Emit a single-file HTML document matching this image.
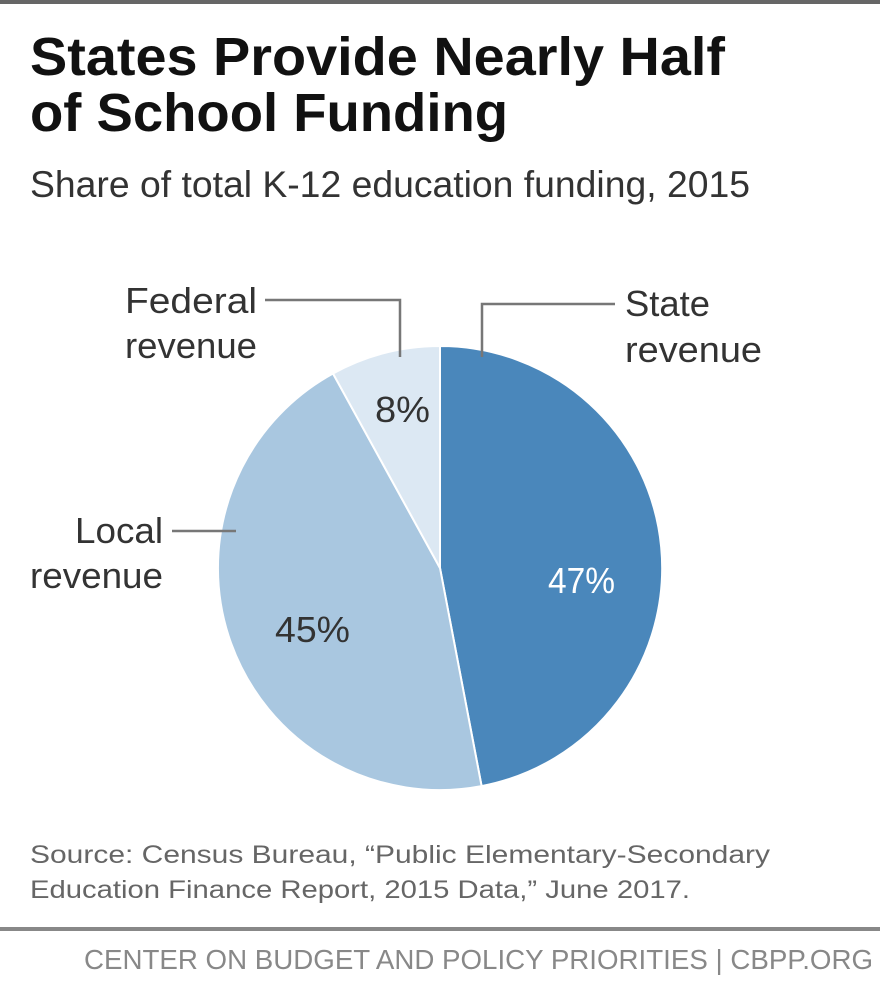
<!DOCTYPE html>
<html><head><meta charset="utf-8"><style>body{margin:0;background:#fff}svg{display:block}</style></head>
<body>
<svg width="880" height="987" viewBox="0 0 880 987" xmlns="http://www.w3.org/2000/svg" font-family="Liberation Sans, sans-serif">
<rect x="0" y="0" width="880" height="4" fill="#666"/>
<text x="30" y="75" font-size="54" font-weight="bold" fill="#111" textLength="695" lengthAdjust="spacingAndGlyphs">States Provide Nearly Half</text>
<text x="30" y="131" font-size="54" font-weight="bold" fill="#111" textLength="478" lengthAdjust="spacingAndGlyphs">of School Funding</text>
<text x="30" y="197" font-size="37" fill="#333" textLength="720" lengthAdjust="spacingAndGlyphs">Share of total K-12 education funding, 2015</text>
<g stroke="#fff" stroke-width="2">
<path d="M440,568 L440,346 A222,222 0 0 1 481.6,786.1 Z" fill="#4a87bb"/>
<path d="M440,568 L481.6,786.1 A222,222 0 0 1 333,373.5 Z" fill="#a9c7e0"/>
<path d="M440,568 L333,373.5 A222,222 0 0 1 440,346 Z" fill="#dce8f3"/>
</g>
<g stroke="#777" stroke-width="2.5" fill="none">
<polyline points="265,300 400,300 400,357"/>
<polyline points="482,357 482,304 615,304"/>
<line x1="172" y1="531" x2="236" y2="531"/>
</g>
<g font-size="36" fill="#333">
<text x="125" y="313" textLength="132" lengthAdjust="spacingAndGlyphs">Federal</text>
<text x="125" y="358" textLength="132" lengthAdjust="spacingAndGlyphs">revenue</text>
<text x="625" y="316" textLength="85" lengthAdjust="spacingAndGlyphs">State</text>
<text x="625" y="362" textLength="137" lengthAdjust="spacingAndGlyphs">revenue</text>
<text x="75" y="543" textLength="88" lengthAdjust="spacingAndGlyphs">Local</text>
<text x="30" y="588" textLength="133" lengthAdjust="spacingAndGlyphs">revenue</text>
<text x="375" y="422" textLength="55" lengthAdjust="spacingAndGlyphs">8%</text>
<text x="275" y="642" textLength="75" lengthAdjust="spacingAndGlyphs">45%</text>
<text x="548" y="593" textLength="67" lengthAdjust="spacingAndGlyphs" fill="#fff">47%</text>
</g>
<g font-size="25" fill="#666">
<text x="30" y="863" textLength="740" lengthAdjust="spacingAndGlyphs">Source: Census Bureau, “Public Elementary-Secondary</text>
<text x="30" y="898" textLength="660" lengthAdjust="spacingAndGlyphs">Education Finance Report, 2015 Data,” June 2017.</text>
</g>
<rect x="0" y="927" width="880" height="4" fill="#888"/>
<text x="84" y="969" font-size="28" fill="#888" textLength="789" lengthAdjust="spacingAndGlyphs">CENTER ON BUDGET AND POLICY PRIORITIES | CBPP.ORG</text>
</svg>
</body></html>
